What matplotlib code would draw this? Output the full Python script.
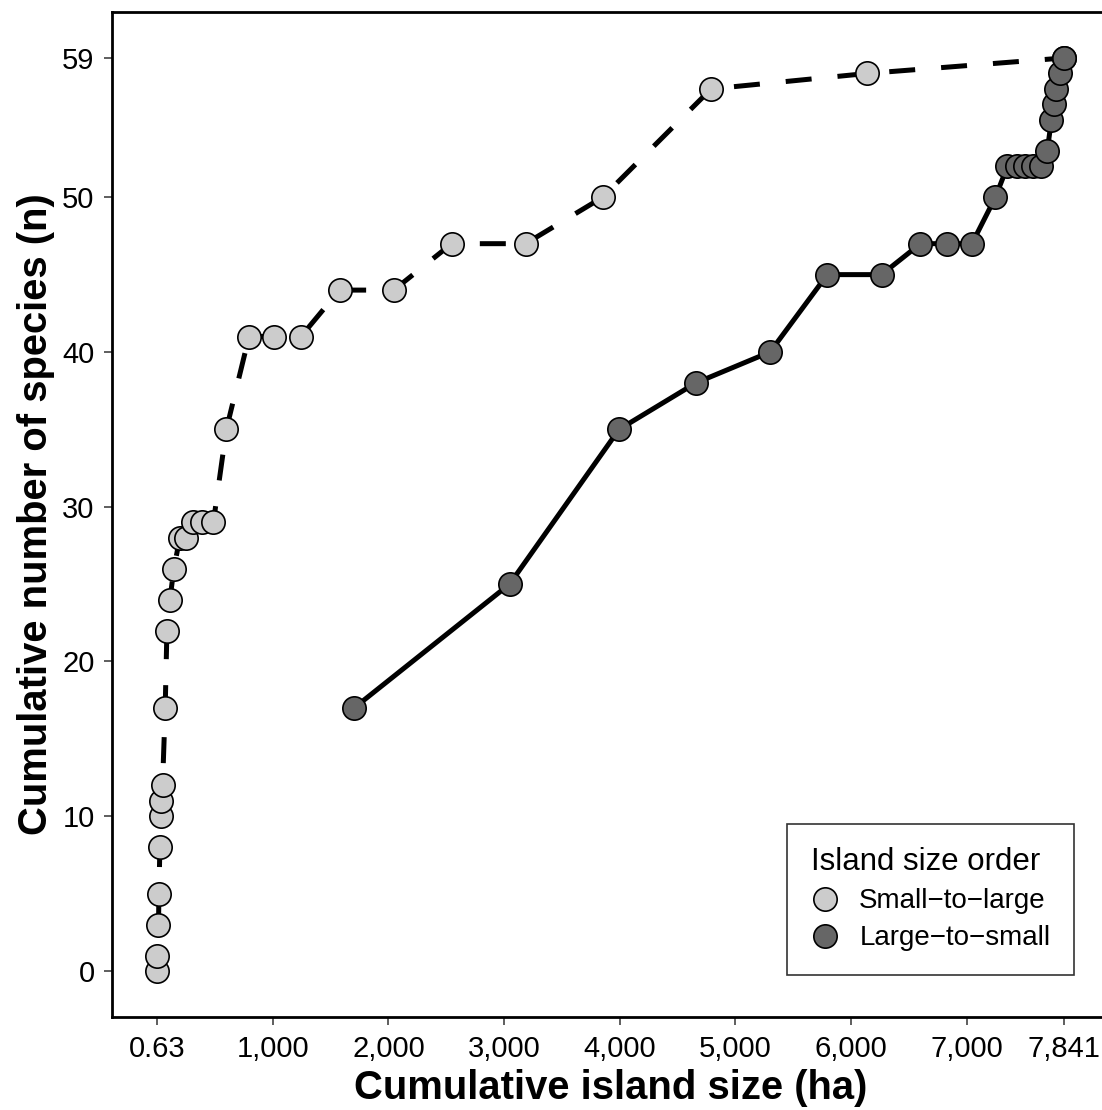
import matplotlib
matplotlib.use("Agg")
import matplotlib.pyplot as plt
from matplotlib.lines import Line2D

plt.rcParams['font.family'] = ['Liberation Sans', 'DejaVu Sans']

# cumulative area (ha) and species count, islands added small -> large
small_area = [0.63, 2, 11, 15, 23, 29, 37, 46, 69, 84, 110, 144, 196, 248,
              311, 389, 486, 598, 794, 1013, 1243, 1577, 2046, 2547, 3186,
              3853, 4791, 6141, 7841]
small_species = [0, 1, 3, 5, 8, 10, 11, 12, 17, 22, 24, 26, 28, 28,
                 29, 29, 29, 35, 41, 41, 41, 44, 44, 47, 47,
                 50, 57, 58, 59]

# islands added large -> small
large_area = [1703, 3048, 3995, 4659, 5301, 5796, 6265, 6602, 6832, 7047,
              7250, 7354, 7438, 7509, 7574, 7647, 7698, 7735, 7753, 7776,
              7805, 7841]
large_species = [17, 25, 35, 38, 40, 45, 45, 47, 47, 47,
                 50, 52, 52, 52, 52, 52, 53, 55, 56, 57,
                 58, 59]

x_ticks = [0.63, 1000, 2000, 3000, 4000, 5000, 6000, 7000, 7841]
x_ticklabels = ["0.63", "1,000", "2,000", "3,000", "4,000", "5,000",
                "6,000", "7,000", "7,841"]
y_ticks = [0, 10, 20, 30, 40, 50, 59]

light = "#CCCCCC"
dark = "#666666"

fig = plt.figure(figsize=(11.02, 11.10), dpi=100)
ax = fig.add_axes([0.1016, 0.0841, 0.9048, 0.9048])

ax.plot(small_area, small_species, color="black", lw=3.6, ls=(0, (5.2, 5.2)),
        solid_capstyle="butt", dash_capstyle="butt", zorder=2)
ax.plot(large_area, large_species, color="black", lw=3.6, zorder=2)

ms = 16.8
ax.plot(small_area, small_species, ls="none", marker="o", ms=ms,
        mfc=light, mec="black", mew=1.2, zorder=3)
ax.plot(large_area, large_species, ls="none", marker="o", ms=ms,
        mfc=dark, mec="black", mew=1.2, zorder=3)

xr = 7841 - 0.63
ax.set_xlim(0.63 - 0.05 * xr, 7841 + 0.05 * xr)
ax.set_ylim(-0.05 * 59, 59 * 1.05)

ax.set_xticks(x_ticks)
ax.set_xticklabels(x_ticklabels)
ax.set_yticks(y_ticks)
ax.tick_params(labelsize=21, length=6, width=1.1, color="#333333",
               labelcolor="black")
ax.tick_params(axis="y", pad=6.5)
ax.tick_params(axis="x", pad=7.5)

for s in ax.spines.values():
    s.set_linewidth(2)

ax.set_xlabel("Cumulative island size (ha)", fontsize=28.8, fontweight="bold",
              labelpad=4)
ax.set_ylabel("Cumulative number of species (n)", fontsize=28.8,
              fontweight="bold", labelpad=5)

handles = [
    Line2D([], [], ls="none", marker="o", ms=ms, mfc=light, mec="black", mew=1.2),
    Line2D([], [], ls="none", marker="o", ms=ms, mfc=dark, mec="black", mew=1.2),
]
leg = ax.legend(handles, ["Small\u2212to\u2212large", "Large\u2212to\u2212small"],
                title="Island size order", loc="lower right",
                bbox_to_anchor=(1074 / 1102, 1 - 975 / 1110),
                bbox_transform=fig.transFigure, borderaxespad=0,
                fontsize=20, title_fontsize=22.5, alignment="left",
                frameon=True, fancybox=False, edgecolor="black",
                handletextpad=0.75, labelspacing=0.4, borderpad=0.85,
                handlelength=1.0)
leg.get_frame().set_linewidth(1.2)

fig.savefig("out.png", dpi=100)
